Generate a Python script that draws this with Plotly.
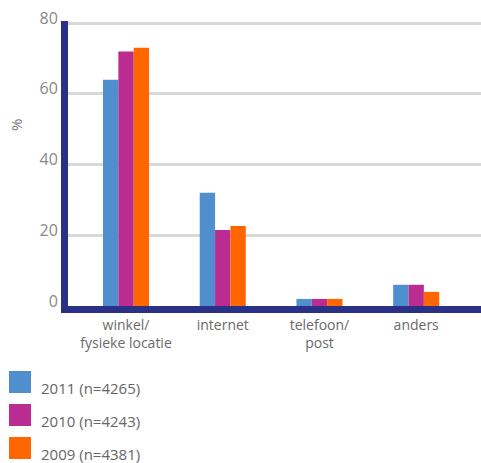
import plotly.graph_objects as go

categories = ["winkel/<br>fysieke locatie", "internet", "telefoon/<br>post", "anders"]
series_names = ["2011 (n=4265)", "2010 (n=4243)", "2009 (n=4381)"]
values_2011 = [64, 32, 2, 6]
values_2010 = [72, 21.5, 2, 6]
values_2009 = [73, 22.6, 2, 4]
series_colors = ["#4F8FCD", "#BA2C90", "#FF6600"]
y_ticks = [0, 20, 40, 60, 80]

W, H = 481, 463
M_L, M_R, M_T, M_B = 68, 0, 21, 157
PW, PH = W - M_L - M_R, H - M_T - M_B

def px_x(x):
    return (x - M_L) / PW

def px_y(y):
    return (H - M_B - y) / PH

fig = go.Figure()
for name, vals, col in zip(series_names, [values_2011, values_2010, values_2009], series_colors):
    fig.add_trace(go.Bar(x=categories, y=vals, name=name, marker=dict(color=col, line=dict(width=0)),
                         showlegend=False))

font_family = "Open Sans, Lato, sans-serif"
fig.update_layout(
    width=W, height=H,
    margin=dict(l=M_L, r=M_R, t=M_T, b=M_B, pad=0),
    paper_bgcolor="white", plot_bgcolor="white",
    barmode="group", bargap=0.524, bargroupgap=0,
    font=dict(family=font_family, color="#777777"),
    xaxis=dict(range=[-0.6, 3.67], showline=True, linecolor="#2B3087", linewidth=7,
               showgrid=False, ticks="", tickfont=dict(size=14, color="#6a6a6a"), zeroline=False),
    yaxis=dict(range=[0, 80.6], tickvals=y_ticks, showline=True, linecolor="#2B3087", linewidth=7,
               showgrid=True, gridcolor="#D9D9D9", gridwidth=3, zeroline=False, ticks="",
               tickfont=dict(size=16, color="#888888"), ticklabelshift=-5, ticklabelstandoff=0),
)

# y-axis title
fig.add_annotation(text="%", x=px_x(16), y=px_y(125), xref="paper", yref="paper",
                   showarrow=False, textangle=-90, font=dict(size=15, color="#777777"),
                   xanchor="center", yanchor="middle")

# legend: coloured squares with labels
for i, (name, col) in enumerate(zip(series_names, series_colors)):
    top = 371 + 33 * i
    fig.add_shape(type="rect", xref="paper", yref="paper",
                  x0=px_x(9), x1=px_x(31), y0=px_y(top + 22), y1=px_y(top),
                  fillcolor=col, line=dict(width=0))
    fig.add_annotation(text=name, x=px_x(39), y=px_y(top + 17), xref="paper", yref="paper",
                       showarrow=False, xanchor="left", yanchor="middle",
                       font=dict(size=15, color="#666666"))

fig.write_html("out.html")
